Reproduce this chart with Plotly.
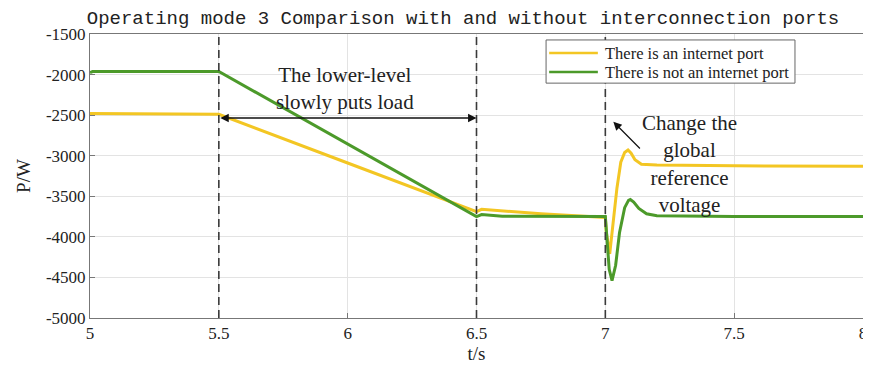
import plotly.graph_objects as go

# ---- data ----
t_yes = [5.0, 5.5, 6.0, 6.5, 6.52, 6.75, 7.0, 7.004, 7.017, 7.03, 7.045, 7.06, 7.075, 7.088, 7.1, 7.115, 7.14, 7.2, 7.5, 8.0]
p_yes = [-2480, -2490, -3090, -3690, -3660, -3715, -3760, -3950, -4210, -3850, -3400, -3080, -2960, -2930, -2970, -3050, -3105, -3115, -3125, -3130]

t_no = [5.0, 5.01, 5.5, 6.0, 6.5, 6.52, 6.6, 7.0, 7.005, 7.015, 7.026, 7.04, 7.055, 7.075, 7.09, 7.097, 7.11, 7.13, 7.16, 7.2, 7.5, 8.0]
p_no = [-1975, -1962, -1962, -2856, -3750, -3725, -3745, -3750, -4000, -4400, -4540, -4350, -3950, -3640, -3550, -3540, -3570, -3650, -3715, -3740, -3748, -3750]

series_names = ["There is an internet port", "There is not an internet port"]
x_ticks = [5, 5.5, 6, 6.5, 7, 7.5, 8]
x_tick_text = ["5", "5.5", "6", "6.5", "7", "7.5", "8"]
y_ticks = [-1500, -2000, -2500, -3000, -3500, -4000, -4500, -5000]
y_tick_text = ["-1500", "-2000", "-2500", "-3000", "-3500", "-4000", "-4500", "-5000"]
event_times = [5.5, 6.5, 7.0]

YELLOW = "#F3C623"
GREEN = "#4C9A2A"
SERIF = "Liberation Serif, Times New Roman, serif"
colors = [YELLOW, GREEN]

fig = go.Figure()
fig.add_trace(go.Scatter(x=t_yes, y=p_yes, mode="lines", name=series_names[0],
                         line=dict(color=YELLOW, width=3), showlegend=False))
fig.add_trace(go.Scatter(x=t_no, y=p_no, mode="lines", name=series_names[1],
                         line=dict(color=GREEN, width=3), showlegend=False))

for et in event_times:
    fig.add_shape(type="line", xref="x", yref="paper", x0=et, x1=et, y0=0, y1=1,
                  line=dict(color="#3a3a3a", width=1.6, dash="8px,5px"))

# legend box (drawn to match the compact MATLAB-style legend)
fig.add_shape(type="rect", xref="paper", yref="paper", x0=0.590, x1=0.912, y0=0.827, y1=0.979,
              line=dict(color="#666", width=1), fillcolor="white", layer="above")
for i, (nm, col) in enumerate(zip(series_names, colors)):
    yy = [0.933, 0.866][i]
    fig.add_shape(type="line", xref="paper", yref="paper", x0=0.594, x1=0.657, y0=yy, y1=yy,
                  line=dict(color=col, width=2.5), layer="above")
    fig.add_annotation(x=0.664, y=yy, xref="paper", yref="paper", text=nm, showarrow=False,
                       xanchor="left", yanchor="middle", font=dict(family=SERIF, size=16.5, color="#222"))

# double arrow
fig.add_annotation(x=6.5, y=-2535, ax=5.5, ay=-2535, xref="x", yref="y", axref="x", ayref="y",
                   text="", showarrow=True, arrowhead=2, startarrowhead=2, arrowside="end+start",
                   arrowsize=1.3, arrowwidth=1.3, arrowcolor="#111")
fig.add_annotation(x=5.99, y=-2172, xref="x", yref="y", text="The lower-level<br>slowly puts load",
                   showarrow=False, font=dict(family=SERIF, size=21, color="#222"))

# change arrow
fig.add_annotation(x=7.031, y=-2581, ax=7.14, ay=-2930, xref="x", yref="y", axref="x", ayref="y",
                   text="", showarrow=True, arrowhead=2, arrowsize=1.4, arrowwidth=1.2, arrowcolor="#111")
fig.add_annotation(x=7.328, y=-3102, xref="x", yref="y",
                   text="Change the<br>global<br>reference<br>voltage",
                   showarrow=False, font=dict(family=SERIF, size=21, color="#222"))

# page body has an 8px default margin, so the figure is sized/offset to compensate
fig.update_layout(
    width=863, height=368,
    margin=dict(l=82, r=8, t=26, b=58, autoexpand=False),
    paper_bgcolor="white", plot_bgcolor="white",
    title=dict(text="Operating mode 3 Comparison with and without interconnection ports",
               x=455 / 863, xanchor="center", y=0.992, yanchor="top",
               font=dict(family="Liberation Mono, DejaVu Sans Mono, monospace", size=19, color="#222")),
    showlegend=False,
    font=dict(family=SERIF, size=17, color="#222"),
)
fig.update_xaxes(range=[5, 8], tickvals=x_ticks, ticktext=x_tick_text, showgrid=True, gridcolor="#e3e3e3",
                 showline=True, linecolor="#777", linewidth=1, mirror=True, ticks="inside", ticklen=5,
                 tickcolor="#777", zeroline=False, title=dict(text="t/s", standoff=4, font=dict(size=19)),
                 tickfont=dict(size=17))
fig.update_yaxes(range=[-5000, -1500], tickvals=y_ticks, ticktext=y_tick_text, showgrid=True, gridcolor="#e3e3e3",
                 showline=True, linecolor="#777", linewidth=1, mirror=True, ticks="inside", ticklen=5,
                 tickcolor="#777", zeroline=False, title=dict(text="P/W", standoff=10, font=dict(size=19)),
                 tickfont=dict(size=17))

fig.write_html("out.html")
